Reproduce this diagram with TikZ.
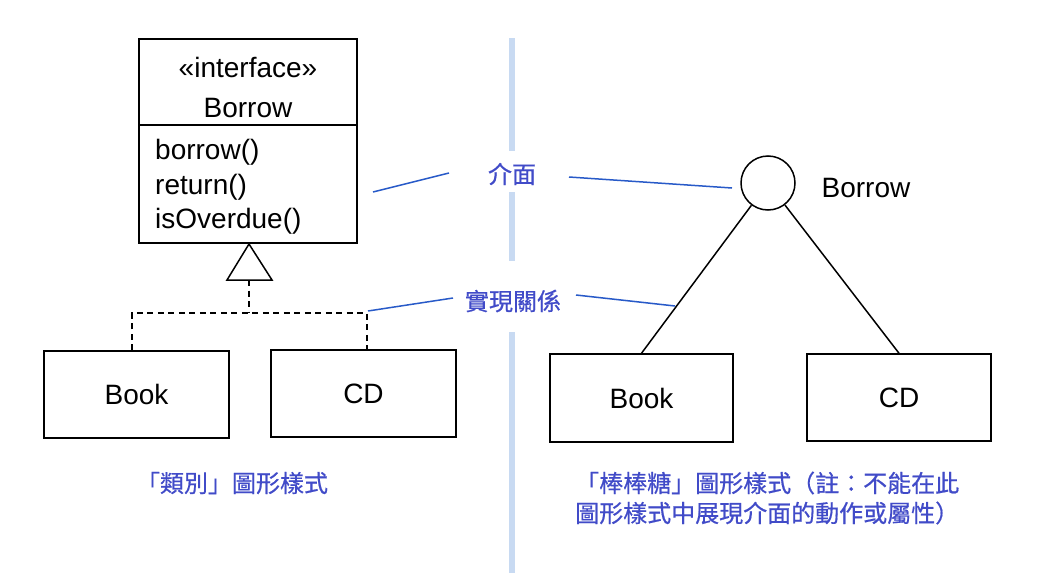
\documentclass[tikz,border=0pt]{standalone}
\usepackage{fontspec}
\setmainfont{Liberation Sans}
\newfontfamily\cjk[FakeBold=0.6]{Noto Sans CJK TC}
\definecolor{capblue}{RGB}{65,75,200}
\definecolor{lineblue}{RGB}{40,90,200}
\definecolor{divblue}{RGB}{200,218,242}
\begin{document}
\begin{tikzpicture}[x=1pt,y=-1pt,
  umlbox/.style={draw,line width=1.5pt,inner sep=0pt},
  txt/.style={inner sep=0pt,font=\fontsize{28}{30}\selectfont},
  cjktxt/.style={inner sep=0pt,text=capblue,font=\cjk\fontsize{24}{30}\selectfont},
  blueline/.style={draw=lineblue,line width=1.5pt},
  dashline/.style={line width=1.4pt,dash pattern=on 6pt off 4.5pt},
  divline/.style={draw=divblue,line width=6pt}]
\useasboundingbox (0,0) rectangle (1037,573);
% divider
\coordinate (d1) at (512,38); \coordinate (d2) at (512,151);
\coordinate (d3) at (512,192); \coordinate (d4) at (512,261);
\coordinate (d5) at (512,332); \coordinate (d6) at (512,573);
\draw[divline] (d1) -- (d2) (d3) -- (d4) (d5) -- (d6);
% left: interface class
\node[umlbox,minimum width=218pt,minimum height=86pt] (ihead) at (248,82) {};
\node[umlbox,minimum width=218pt,minimum height=118pt] (imeth) at (248,184) {};
\node[txt,anchor=base] (st) at (248,77) {«interface»};
\node[txt,anchor=base] (nm) at (248,117) {Borrow};
\node[txt,anchor=base west] (m1) at (155,159) {borrow()};
\node[txt,anchor=base west] (m2) at (155,194) {return()};
\node[txt,anchor=base west] (m3) at (155,228) {isOverdue()};
% triangle
\coordinate (tA) at (249,244);
\coordinate (tL) at (227,280);
\coordinate (tR) at (272,280);
\coordinate (tB) at (249,280);
\draw[line width=1.5pt,line join=miter] (tA) -- (tL) -- (tR) -- cycle;
% left boxes
\node[umlbox,minimum width=185pt,minimum height=87pt,font=\fontsize{28}{30}\selectfont] (lbook) at (136.5,394.5) {Book};
\node[umlbox,minimum width=185pt,minimum height=87pt,font=\fontsize{28}{30}\selectfont] (lcd) at (363.5,393.5) {CD};
\coordinate (jn) at (249,313);
\coordinate (jl) at (132,313);
\coordinate (jr) at (367,313);
\draw[dashline] (tB) -- (jn);
\draw[dashline] (lbook.north -| jl) -- (jl) -- (jr) -- (lcd.north -| jr);
% right lollipop
\node[draw,circle,line width=1.5pt,minimum size=54pt,inner sep=0pt] (lol) at (768,183) {};
\node[txt] (lolname) at (866,188) {Borrow};
\node[umlbox,minimum width=183pt,minimum height=88pt,font=\fontsize{28}{30}\selectfont] (rbook) at (641.5,398) {Book};
\node[umlbox,minimum width=184pt,minimum height=87pt,font=\fontsize{28}{30}\selectfont] (rcd) at (899,397.5) {CD};
\draw[line width=1.5pt] (lol) -- (rbook.north);
\draw[line width=1.5pt] (lol) -- (rcd.north);
% annotations
\node[cjktxt] (lbl1) at (512,174) {介面};
\node[cjktxt] (lbl2) at (513,301) {實現關係};
\coordinate (a1) at (373,192); \coordinate (a2) at (449,173);
\coordinate (a3) at (569,177); \coordinate (a4) at (732,188);
\coordinate (b1) at (368,311); \coordinate (b2) at (453,298);
\coordinate (b3) at (576,295); \coordinate (b4) at (675,306);
\draw[blueline] (a1) -- (a2);
\draw[blueline] (a3) -- (a4);
\draw[blueline] (b1) -- (b2);
\draw[blueline] (b3) -- (b4);
% captions
\node[cjktxt] (capl) at (232,483) {「類別」圖形樣式};
\node[cjktxt,align=left,anchor=west] (capr) at (575,498) {「棒棒糖」圖形樣式（註：不能在此\\圖形樣式中展現介面的動作或屬性）};
\end{tikzpicture}
\end{document}
